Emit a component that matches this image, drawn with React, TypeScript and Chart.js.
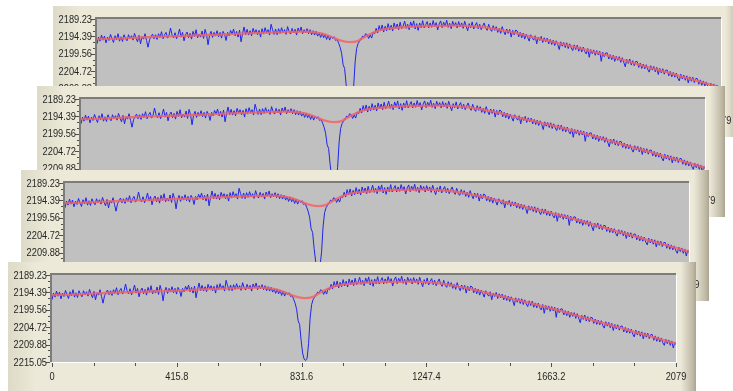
import React, { useEffect, useRef } from "react";
import { Chart, registerables } from "chart.js";

Chart.register(...registerables);

const xTickValues = [0, 415.8, 831.6, 1247.4, 1663.2, 2079];
const xTickLabels = ["0", "415.8", "831.6", "1247.4", "1663.2", "2079"];
const yTickValues = [2189.23, 2194.39, 2199.56, 2204.72, 2209.88, 2215.05];
const yTickLabels = ["2189.23", "2194.39", "2199.56", "2204.72", "2209.88", "2215.05"];

const blueX = [
  0, 5, 10, 15, 20, 25, 30, 35, 40, 45, 50, 55, 60, 65, 70, 75, 80, 85, 90, 95,
  100, 105, 110, 115, 120, 125, 130, 135, 140, 145, 150, 155, 160, 165, 170, 175, 180, 185, 190, 195,
  200, 205, 210, 215, 220, 225, 230, 235, 240, 245, 250, 255, 260, 265, 270, 275, 280, 285, 290, 295,
  300, 305, 310, 315, 320, 325, 330, 335, 340, 345, 350, 355, 360, 365, 370, 375, 380, 385, 390, 395,
  400, 405, 410, 415, 420, 425, 430, 435, 440, 445, 450, 455, 460, 465, 470, 475, 480, 485, 490, 495,
  500, 505, 510, 515, 520, 525, 530, 535, 540, 545, 550, 555, 560, 565, 570, 575, 580, 585, 590, 595,
  600, 605, 610, 615, 620, 625, 630, 635, 640, 645, 650, 655, 660, 665, 670, 675, 680, 685, 690, 695,
  700, 705, 710, 715, 720, 725, 730, 735, 740, 745, 750, 755, 760, 765, 770, 775, 780,
  785, 790, 795, 800, 805, 810, 815, 820, 825, 830, 835, 840,
  845, 850, 855, 860, 865, 870, 875, 880, 885, 890, 895, 900,
  905, 910, 915, 920, 925, 930, 935, 940, 945, 950, 955, 960, 965, 970, 975, 980, 985, 990, 995,
  1000, 1005, 1010, 1015, 1020, 1025, 1030, 1035, 1040, 1045, 1050, 1055, 1060, 1065, 1070, 1075, 1080, 1085, 1090, 1095,
  1100, 1105, 1110, 1115, 1120, 1125, 1130, 1135, 1140, 1145, 1150, 1155, 1160, 1165, 1170, 1175, 1180, 1185, 1190, 1195,
  1200, 1205, 1210, 1215, 1220, 1225, 1230, 1235, 1240, 1245, 1250, 1255, 1260, 1265, 1270, 1275, 1280, 1285, 1290, 1295,
  1300, 1305, 1310, 1315, 1320, 1325, 1330, 1335, 1340, 1345, 1350, 1355, 1360, 1365, 1370, 1375, 1380, 1385, 1390, 1395,
  1400, 1405, 1410, 1415, 1420, 1425, 1430, 1435, 1440, 1445, 1450, 1455, 1460, 1465, 1470, 1475, 1480, 1485, 1490, 1495,
  1500, 1505, 1510, 1515, 1520, 1525, 1530, 1535, 1540, 1545, 1550, 1555, 1560, 1565, 1570, 1575, 1580, 1585, 1590, 1595,
  1600, 1605, 1610, 1615, 1620, 1625, 1630, 1635, 1640, 1645, 1650, 1655, 1660, 1665, 1670, 1675, 1680, 1685, 1690, 1695,
  1700, 1705, 1710, 1715, 1720, 1725, 1730, 1735, 1740, 1745, 1750, 1755, 1760, 1765, 1770, 1775, 1780, 1785, 1790, 1795,
  1800, 1805, 1810, 1815, 1820, 1825, 1830, 1835, 1840, 1845, 1850, 1855, 1860, 1865, 1870, 1875, 1880, 1885, 1890, 1895,
  1900, 1905, 1910, 1915, 1920, 1925, 1930, 1935, 1940, 1945, 1950, 1955, 1960, 1965, 1970, 1975, 1980, 1985, 1990, 1995,
  2000, 2005, 2010, 2015, 2020, 2025, 2030, 2035, 2040, 2045, 2050, 2055, 2060, 2065, 2070, 2075, 2079,
];

const blueY = [
  2196.6, 2194.6, 2195.8, 2194.0, 2195.5, 2194.3, 2196.3, 2194.6, 2195.6, 2193.8, 2195.1, 2196.2, 2194.2, 2195.4, 2193.6, 2195.8, 2194.5, 2195.9, 2193.9, 2195.0,
  2195.7, 2193.9, 2195.1, 2194.2, 2195.5, 2193.5, 2194.9, 2196.0, 2194.1, 2196.6, 2194.5, 2195.2, 2193.6, 2195.6, 2197.6, 2195.4, 2194.5, 2193.7, 2195.1, 2193.9,
  2195.3, 2193.6, 2194.7, 2193.0, 2195.1, 2193.9, 2193.2, 2194.9, 2194.0, 2191.9, 2193.9, 2194.8, 2193.3, 2195.1, 2193.9, 2192.2, 2194.6, 2193.2, 2195.7, 2193.9,
  2193.1, 2194.8, 2193.5, 2195.2, 2192.9, 2194.4, 2192.4, 2194.8, 2193.7, 2194.6, 2192.8, 2195.0, 2192.3, 2193.9, 2196.9, 2194.1, 2192.9, 2194.7, 2193.2, 2194.3,
  2192.7, 2194.5, 2193.2, 2194.9, 2192.9, 2193.8, 2195.6, 2193.2, 2194.2, 2192.6, 2193.7, 2192.2, 2194.2, 2192.9, 2194.6, 2192.5, 2196.0, 2193.5, 2191.6, 2193.9,
  2192.3, 2194.0, 2192.7, 2194.2, 2192.0, 2193.4, 2192.4, 2193.9, 2192.6, 2194.6, 2192.1, 2193.7, 2191.8, 2193.3, 2192.4, 2194.0, 2190.8, 2192.4, 2193.8, 2192.2,
  2193.9, 2192.1, 2193.5, 2191.8, 2193.3, 2192.4, 2193.8, 2191.5, 2192.9, 2193.7, 2192.0, 2193.4, 2192.3, 2194.0, 2191.9, 2193.1, 2191.6, 2193.6, 2192.4, 2193.3,
  2192.1, 2193.6, 2192.4, 2193.9, 2192.7, 2194.0, 2192.9, 2194.3, 2193.3, 2194.7, 2193.4, 2194.8, 2193.8, 2195.3, 2194.0, 2195.5, 2194.4,
  2195.0, 2194.5, 2195.6, 2195.3, 2196.4, 2197.6, 2199.4, 2202.8, 2203.9, 2208.6, 2212.4, 2214.2,
  2214.6, 2213.9, 2209.5, 2202.0, 2198.0, 2196.5, 2195.8, 2195.1, 2194.3, 2194.6, 2193.6, 2193.9,
  2195.0, 2193.9, 2194.9, 2193.2, 2193.6, 2192.0, 2193.4, 2191.2, 2192.8, 2191.0, 2193.1, 2191.4, 2192.7, 2190.6, 2192.5, 2191.1, 2192.8, 2190.4, 2192.1,
  2190.7, 2192.4, 2190.2, 2192.1, 2191.3, 2189.9, 2192.0, 2190.8, 2192.4, 2190.1, 2191.6, 2189.8, 2192.2, 2190.6, 2192.6, 2190.4, 2191.8, 2189.7, 2191.9, 2190.9,
  2190.0, 2191.9, 2190.4, 2191.7, 2189.7, 2191.5, 2190.3, 2192.5, 2190.7, 2189.8, 2191.8, 2190.2, 2191.4, 2189.6, 2191.7, 2190.5, 2192.1, 2189.9, 2191.3, 2190.3,
  2191.9, 2190.0, 2191.6, 2190.4, 2192.0, 2189.9, 2191.4, 2192.7, 2190.6, 2191.8, 2190.1, 2192.2, 2191.1, 2190.3, 2192.1, 2190.8, 2192.4, 2191.3, 2190.4, 2191.9,
  2192.6, 2190.8, 2192.3, 2192.9, 2191.2, 2192.6, 2191.5, 2193.2, 2192.0, 2193.5, 2191.5, 2192.9, 2193.9, 2192.2, 2193.5, 2192.3, 2194.6, 2192.6, 2193.9, 2192.5,
  2192.8, 2194.5, 2193.2, 2194.8, 2193.4, 2195.2, 2193.7, 2194.7, 2195.8, 2193.9, 2194.9, 2195.5, 2194.2, 2196.6, 2194.6, 2195.6, 2194.4, 2196.2, 2194.8, 2196.0,
  2194.9, 2196.6, 2195.3, 2196.8, 2195.5, 2197.1, 2195.7, 2196.8, 2198.3, 2196.0, 2197.3, 2196.2, 2197.7, 2196.3, 2198.0, 2196.6, 2197.8, 2198.6, 2196.9, 2198.3,
  2197.0, 2198.8, 2197.5, 2199.0, 2197.6, 2198.9, 2199.6, 2198.0, 2200.6, 2198.3, 2199.5, 2198.4, 2200.0, 2198.6, 2199.9, 2198.8, 2201.8, 2199.1, 2200.4, 2199.3,
  2199.3, 2201.1, 2199.8, 2201.3, 2200.0, 2201.8, 2200.3, 2201.5, 2200.4, 2202.1, 2200.7, 2202.1, 2203.4, 2201.2, 2202.4, 2201.1, 2202.9, 2201.6, 2203.1, 2201.8,
  2201.9, 2203.6, 2202.3, 2203.9, 2202.6, 2204.0, 2202.8, 2204.2, 2205.0, 2203.1, 2204.4, 2203.3, 2204.9, 2203.6, 2205.7, 2203.9, 2205.2, 2204.0, 2205.6, 2204.4,
  2204.4, 2206.1, 2204.8, 2206.4, 2205.1, 2206.5, 2205.3, 2206.8, 2207.6, 2205.6, 2207.0, 2205.9, 2207.4, 2206.1, 2208.2, 2206.4, 2207.7, 2206.5, 2208.1, 2206.9,
  2206.9, 2208.6, 2207.3, 2208.9, 2207.6, 2209.1, 2207.9, 2209.3, 2210.1, 2208.3, 2209.6, 2208.5, 2210.1, 2208.8, 2210.9, 2209.2, 2209.9,
];

const redX = [0, 100, 200, 300, 400, 500, 600, 700, 750, 780, 810, 840, 870, 900, 940, 1000, 1100, 1200, 1300, 1400, 1500, 1600, 1700, 1800, 1900, 2000, 2079];
const redY = [2195.2, 2194.9, 2194.5, 2194.2, 2193.9, 2193.5, 2193.2, 2193.0, 2193.6, 2194.5, 2195.6, 2196.1, 2195.7, 2194.1, 2192.6, 2191.8, 2191.3, 2191.2, 2191.8, 2193.5, 2195.6, 2197.7, 2200.0, 2202.6, 2205.1, 2207.6, 2209.6];

const X_MIN = 0;
const X_MAX = 2079;
const Y_MIN = 2189.23;
const Y_MAX = 2215.05;
const X_MINOR_PER_MAJOR = 3;
const Y_MINOR_PER_MAJOR = 3;

const WIN_W = 688;
const WIN_H = 131;
const PLOT_LEFT = 44;
const PLOT_TOP = 13;
const PLOT_W = 624;
const PLOT_H = 87;

const FONT = "11px 'Liberation Sans', Arial, sans-serif";
const TEXT_SQUEEZE = 0.84;

const panels = [
  { left: 53, top: 6 },
  { left: 37, top: 86 },
  { left: 21, top: 170 },
  { left: 8, top: 262 },
];

const framePlugin = {
  id: "framePlugin",
  beforeDraw(chart: any) {
    const { ctx, chartArea: a } = chart;
    ctx.save();
    ctx.fillStyle = "#c0c0c0";
    ctx.fillRect(a.left, a.top, a.right - a.left, a.bottom - a.top);
    ctx.restore();
  },
  afterDraw(chart: any) {
    const { ctx, chartArea: a } = chart;
    const xs = chart.scales.x;
    const ys = chart.scales.y;
    ctx.save();
    ctx.strokeStyle = "#ffffff";
    ctx.lineWidth = 1;
    ctx.beginPath();
    ctx.moveTo(a.left, a.bottom + 0.5);
    ctx.lineTo(a.right + 0.5, a.bottom + 0.5);
    ctx.lineTo(a.right + 0.5, a.top);
    ctx.stroke();
    ctx.strokeStyle = "#7c7c7c";
    ctx.lineWidth = 2;
    ctx.beginPath();
    ctx.moveTo(a.left - 1, a.bottom);
    ctx.lineTo(a.left - 1, a.top - 1);
    ctx.lineTo(a.right, a.top - 1);
    ctx.stroke();

    ctx.strokeStyle = "#505050";
    ctx.lineWidth = 1;
    ctx.beginPath();
    for (let i = 0; i < xTickValues.length; i++) {
      const v = xTickValues[i];
      const px = Math.round(xs.getPixelForValue(v)) + 0.5;
      ctx.moveTo(px, a.bottom + 1);
      ctx.lineTo(px, a.bottom + 5);
      if (i < xTickValues.length - 1) {
        const step = (xTickValues[i + 1] - v) / X_MINOR_PER_MAJOR;
        for (let k = 1; k < X_MINOR_PER_MAJOR; k++) {
          const mx = Math.round(xs.getPixelForValue(v + step * k)) + 0.5;
          ctx.moveTo(mx, a.bottom + 1);
          ctx.lineTo(mx, a.bottom + 4);
        }
      }
    }
    for (let i = 0; i < yTickValues.length; i++) {
      const v = yTickValues[i];
      const py = Math.round(ys.getPixelForValue(v)) + 0.5;
      ctx.moveTo(a.left - 6, py);
      ctx.lineTo(a.left - 2, py);
      if (i < yTickValues.length - 1) {
        const step = (yTickValues[i + 1] - v) / Y_MINOR_PER_MAJOR;
        for (let k = 1; k < Y_MINOR_PER_MAJOR; k++) {
          const my = Math.round(ys.getPixelForValue(v + step * k)) + 0.5;
          ctx.moveTo(a.left - 4, my);
          ctx.lineTo(a.left - 2, my);
        }
      }
    }
    ctx.stroke();

    // tick labels (slightly condensed, like the original narrow UI font)
    ctx.fillStyle = "#262626";
    ctx.font = FONT;
    ctx.textBaseline = "middle";
    ctx.scale(TEXT_SQUEEZE, 1);
    ctx.textAlign = "right";
    for (let i = 0; i < yTickValues.length; i++) {
      const py = ys.getPixelForValue(yTickValues[i]);
      ctx.fillText(yTickLabels[i], (a.left - 5) / TEXT_SQUEEZE, py + 0.5);
    }
    ctx.textAlign = "center";
    for (let i = 0; i < xTickValues.length; i++) {
      const px = xs.getPixelForValue(xTickValues[i]);
      ctx.fillText(xTickLabels[i], px / TEXT_SQUEEZE, a.bottom + 15);
    }
    ctx.restore();
  },
};

function Panel({ left, top }: { left: number; top: number }) {
  const ref = useRef<HTMLCanvasElement>(null);
  useEffect(() => {
    const canvas = ref.current;
    if (!canvas) return;
    const chart = new Chart(canvas, {
      type: "line",
      data: {
        datasets: [
          {
            data: redX.map((x, i) => ({ x, y: redY[i] })),
            borderColor: "rgba(245, 98, 98, 0.82)",
            borderWidth: 2.3,
            pointRadius: 0,
            cubicInterpolationMode: "monotone",
            fill: false,
          },
          {
            data: blueX.map((x, i) => ({ x, y: blueY[i] })),
            borderColor: "#1e26ea",
            borderWidth: 1,
            pointRadius: 0,
            tension: 0,
            fill: false,
          },
        ],
      },
      options: {
        animation: false,
        responsive: false,
        devicePixelRatio: 1,
        events: [],
        layout: { padding: { left: 0, top: PLOT_TOP, right: WIN_W - PLOT_LEFT - PLOT_W, bottom: 0 } },
        plugins: { legend: { display: false }, tooltip: { enabled: false }, title: { display: false } },
        scales: {
          x: {
            type: "linear",
            min: X_MIN,
            max: X_MAX,
            border: { display: false },
            grid: { display: false, drawTicks: false },
            ticks: { display: false },
            afterFit: (scale: any) => {
              scale.height = WIN_H - PLOT_TOP - PLOT_H;
            },
          },
          y: {
            type: "linear",
            min: Y_MIN,
            max: Y_MAX,
            reverse: true,
            border: { display: false },
            grid: { display: false, drawTicks: false },
            ticks: { display: false },
            afterFit: (scale: any) => {
              scale.width = PLOT_LEFT;
            },
          },
        },
      },
      plugins: [framePlugin],
    } as any);
    return () => chart.destroy();
  }, []);

  const stripLeft = PLOT_LEFT + PLOT_W + 5;
  return (
    <div
      style={{
        position: "absolute",
        left,
        top,
        width: WIN_W,
        height: WIN_H,
        background: "#ece9d8",
        overflow: "hidden",
      }}
    >
      <div
        style={{
          position: "absolute",
          left: 0,
          top: 0,
          width: 28,
          height: WIN_H,
          background: "linear-gradient(to right, #dedac8, #ece9d8)",
        }}
      />
      <div
        style={{
          position: "absolute",
          left: stripLeft,
          top: 0,
          width: WIN_W - stripLeft,
          height: WIN_H,
          background: "linear-gradient(to right, #ebe7d8 0%, #d8d3c1 35%, #bdb7a3 80%, #aaa48f 100%)",
        }}
      />
      <canvas
        ref={ref}
        width={WIN_W}
        height={WIN_H}
        style={{ position: "absolute", left: 0, top: 0, width: WIN_W, height: WIN_H }}
      />
    </div>
  );
}

export default function App() {
  return (
    <div
      style={{
        position: "fixed",
        left: 0,
        top: 0,
        width: 733,
        height: 391,
        overflow: "hidden",
        background: "#ffffff",
      }}
    >
      {panels.map((p, i) => (
        <Panel key={i} left={p.left} top={p.top} />
      ))}
    </div>
  );
}
